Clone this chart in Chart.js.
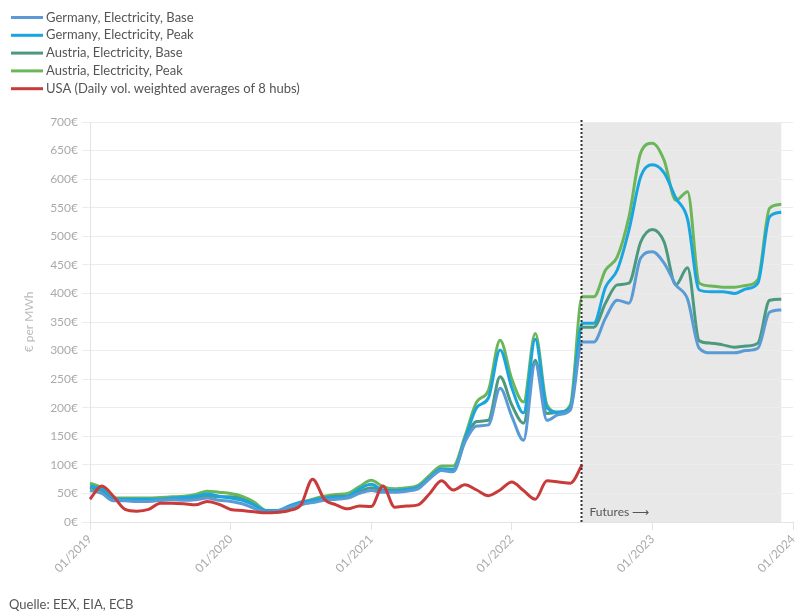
<!DOCTYPE html>
<html>
<head>
<meta charset="utf-8">
<script src="https://cdn.jsdelivr.net/npm/chart.js@4.4.1/dist/chart.umd.min.js"></script>
<style>
  html, body { margin: 0; padding: 0; background: #fff; }
  #wrap { position: relative; width: 798px; height: 612px; }
</style>
</head>
<body>
<div id="wrap"><canvas id="priceChart"></canvas></div>
<script>
// monthly averages 01/2019 .. 12/2023, futures from 07/2022
const years = [2019, 2020, 2021, 2022, 2023];
const monthNums = ['01', '02', '03', '04', '05', '06', '07', '08', '09', '10', '11', '12'];
const months = [];
years.forEach(y => monthNums.forEach(m => months.push(m + '/' + y)));
months.push('01/2024'); // end of axis

const futuresFrom = '07/2022';
const futuresTo = '12/2023';

const seriesNames = [
    'Germany, Electricity, Base',
    'Germany, Electricity, Peak',
    'Austria, Electricity, Base',
    'Austria, Electricity, Peak',
    'USA (Daily vol. weighted averages of 8 hubs)'
];

const deBase = [
    55, 50, 37, 37, 36, 36, 38, 39, 38, 39, 42, 38,
    36, 32, 24, 17, 19, 26, 31, 34, 38, 40, 42, 50,
    55, 52, 52, 54, 58, 76, 90, 88, 140, 168, 170, 234,
    185, 143, 278, 178, 188, 196, 315, 315, 357, 388, 383, 462,
    473, 453, 415, 390, 304, 296, 296, 296, 300, 304, 367, 371
];
const dePeak = [
    63, 58, 40, 40, 40, 40, 40, 42, 43, 45, 49, 45,
    42, 38, 30, 20, 20, 28, 35, 38, 42, 43, 45, 58,
    66, 56, 55, 57, 61, 78, 93, 92, 145, 200, 217, 301,
    235, 191, 320, 200, 192, 200, 348, 348, 411, 441, 511, 604,
    625, 611, 567, 530, 406, 403, 403, 400, 408, 418, 534, 542
];
const atBase = [
    60, 55, 38, 38, 37, 37, 38, 40, 40, 42, 46, 44,
    44, 40, 30, 18, 17, 22, 30, 36, 42, 45, 45, 53,
    60, 55, 54, 56, 60, 77, 92, 90, 143, 176, 178, 254,
    205, 173, 283, 190, 192, 200, 341, 341, 383, 415, 418, 490,
    512, 490, 415, 445, 317, 313, 310, 306, 308, 313, 388, 390
];
const atPeak = [
    68, 60, 42, 42, 42, 42, 43, 44, 45, 48, 54, 52,
    50, 45, 35, 20, 18, 25, 33, 40, 45, 48, 50, 62,
    73, 62, 58, 60, 64, 82, 98, 98, 150, 210, 230, 318,
    250, 210, 330, 205, 192, 205, 394, 394, 441, 464, 534, 646,
    663, 633, 563, 578, 418, 413, 411, 411, 414, 424, 549, 556
];
// USA spot only (ends 07/2022)
const usa = [
    40, 63, 45, 22, 19, 22, 33, 33, 32, 30, 36, 31,
    22, 20, 18, 16, 17, 20, 30, 75, 40, 30, 23, 28,
    27, 63, 26, 28, 30, 50, 72, 56, 65, 56, 46, 56,
    70, 55, 40, 72, 70, 68, 100
];

const colors = ['#5b9bd5', '#1ba5e0', '#4b9a7e', '#6cb65a', '#c93a3a'];
const FONT = 'Lato, "Open Sans", sans-serif';

function makeSet(i, data, order) {
    return {
        label: seriesNames[i],
        data: data,
        borderColor: colors[i],
        backgroundColor: colors[i],
        borderWidth: 3,
        pointRadius: 0,
        fill: false,
        cubicInterpolationMode: 'monotone',
        order: order
    };
}

// grey futures area + dotted separator
const futuresPlugin = {
    id: 'futures',
    beforeDraw(chart) {
        const {ctx, chartArea, scales} = chart;
        const x0 = scales.x.getPixelForValue(months.indexOf(futuresFrom));
        const x1 = scales.x.getPixelForValue(months.indexOf(futuresTo));
        ctx.save();
        ctx.fillStyle = '#e8e8e8';
        ctx.fillRect(x0, chartArea.top, x1 - x0, chartArea.bottom - chartArea.top);
        ctx.restore();
    },
    afterDatasetsDraw(chart) {
        const {ctx, chartArea, scales} = chart;
        const x0 = Math.round(scales.x.getPixelForValue(months.indexOf(futuresFrom))) - 0.5;
        ctx.save();
        ctx.strokeStyle = '#333';
        ctx.lineWidth = 2;
        ctx.setLineDash([2, 2]);
        ctx.beginPath();
        ctx.moveTo(x0, chartArea.top - 2);
        ctx.lineTo(x0, chartArea.bottom);
        ctx.stroke();
        ctx.setLineDash([]);
        ctx.fillStyle = '#555';
        ctx.font = '12px ' + FONT;
        ctx.textBaseline = 'alphabetic';
        ctx.fillText('Futures \u27F6', x0 + 8, chartArea.bottom - 6);
        ctx.restore();
    }
};

// vertical legend at top left + source line
const legendPlugin = {
    id: 'sideLegend',
    afterDraw(chart) {
        const ctx = chart.ctx;
        ctx.save();
        ctx.font = '13px ' + FONT;
        ctx.textBaseline = 'middle';
        seriesNames.forEach((name, i) => {
            const y = 17.5 + i * 17.8;
            ctx.strokeStyle = colors[i];
            ctx.lineWidth = 3;
            ctx.beginPath();
            ctx.moveTo(11, y);
            ctx.lineTo(43, y);
            ctx.stroke();
            ctx.fillStyle = '#555';
            ctx.fillText(name, 46, y);
        });
        ctx.textBaseline = 'top';
        ctx.fillText('Quelle: EEX, EIA, ECB', 9, 598);
        ctx.restore();
    }
};

new Chart(document.getElementById('priceChart').getContext('2d'), {
    type: 'line',
    data: {
        labels: months,
        datasets: [
            makeSet(0, deBase, 1),
            makeSet(1, dePeak, 2),
            makeSet(2, atBase, 3),
            makeSet(3, atPeak, 4),
            makeSet(4, usa, 0)
        ]
    },
    options: {
        responsive: true,
        maintainAspectRatio: false,
        animation: false,
        layout: { padding: { top: 122, right: 5, bottom: 0, left: 0 } },
        plugins: {
            legend: { display: false },
            tooltip: { enabled: false }
        },
        scales: {
            x: {
                offset: false,
                grid: { drawOnChartArea: false, drawTicks: true, tickLength: 8, color: '#e3e3e3' },
                border: { color: '#e3e3e3' },
                ticks: {
                    autoSkip: false,
                    minRotation: 45,
                    maxRotation: 45,
                    padding: 2,
                    color: '#aaa',
                    font: { family: FONT, size: 12 },
                    callback: function (v) {
                        const l = this.getLabelForValue(v);
                        return l.startsWith('01/') ? l : null;
                    }
                },
                afterFit(scale) {
                    scale.height = 90;
                    scale.paddingLeft = 0;
                    scale.paddingRight = 0;
                }
            },
            y: {
                min: 0,
                max: 700,
                grid: { color: '#ececec', tickLength: 8 },
                border: { color: '#e3e3e3' },
                ticks: {
                    stepSize: 50,
                    padding: 4,
                    color: '#aaa',
                    font: { family: FONT, size: 12 },
                    callback: v => v + '€'
                },
                title: {
                    display: true,
                    text: '€ per MWh',
                    color: '#bbb',
                    font: { family: FONT, size: 12 },
                    padding: { top: 22, bottom: 0 }
                },
                afterFit(scale) {
                    scale.width = 90;
                }
            }
        }
    },
    plugins: [futuresPlugin, legendPlugin]
});
</script>
</body>
</html>
